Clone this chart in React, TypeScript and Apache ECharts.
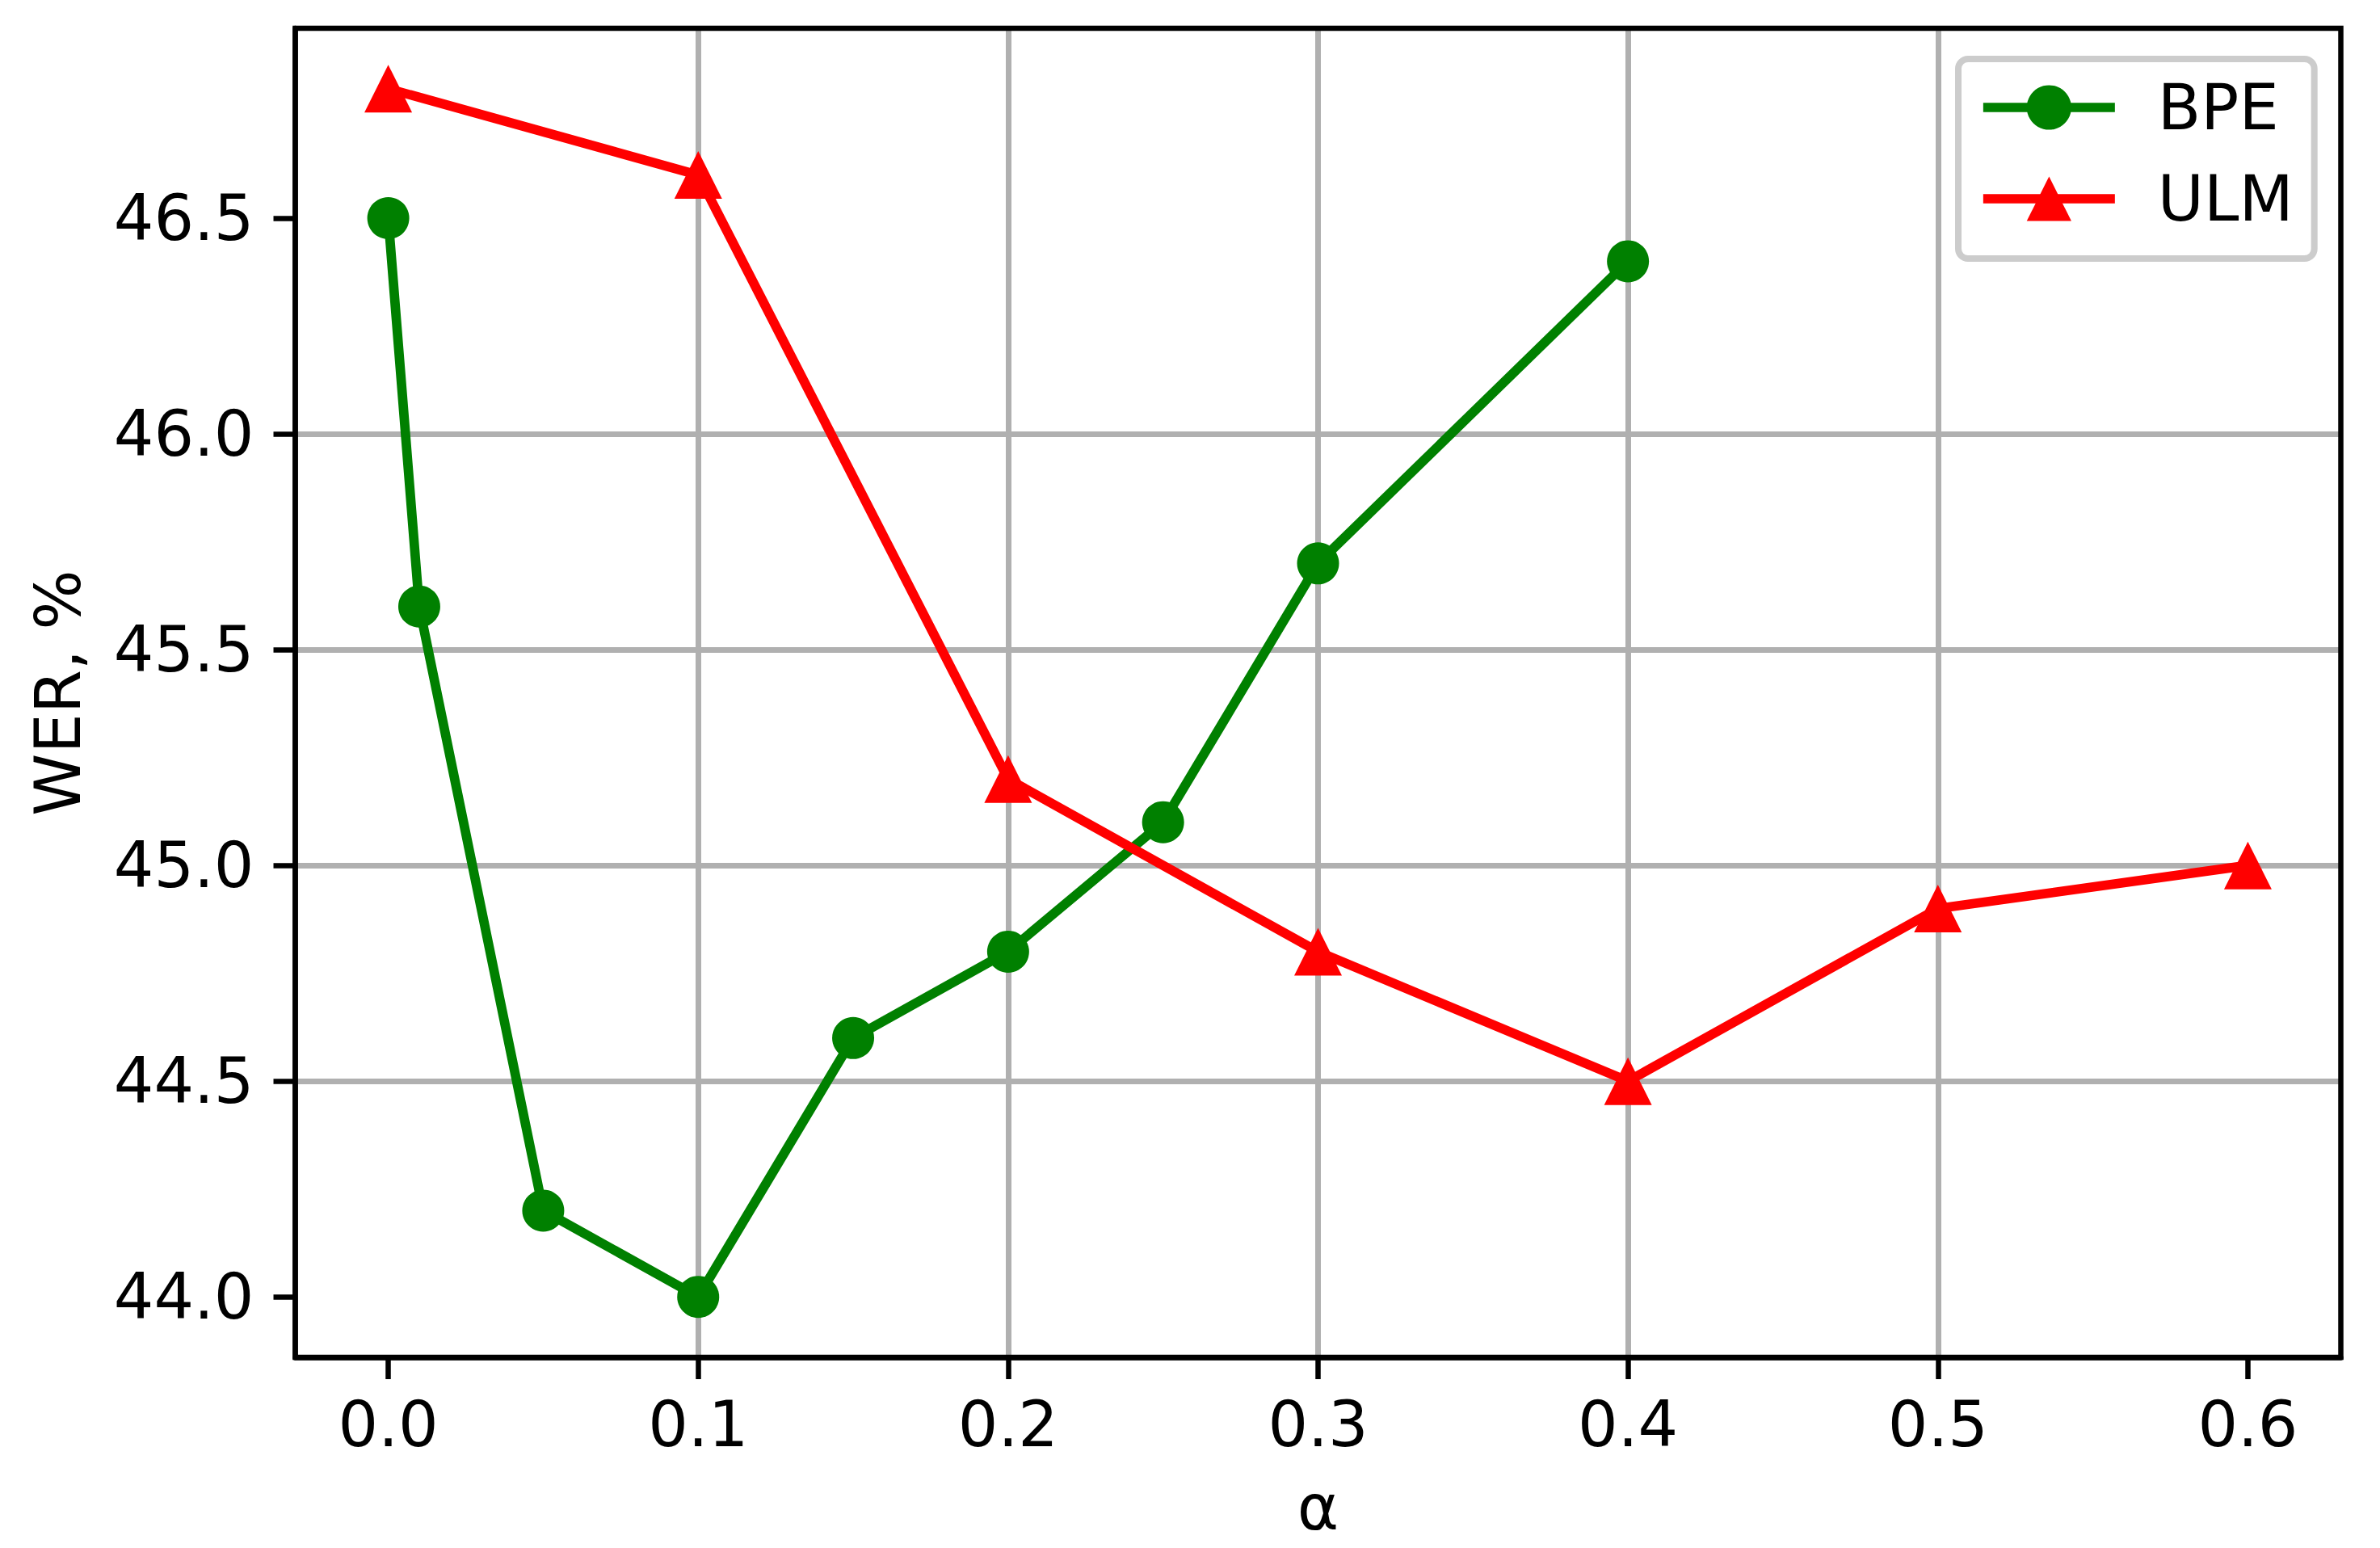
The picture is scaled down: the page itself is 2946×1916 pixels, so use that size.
import React, { useEffect, useRef } from "react";
import * as echarts from "echarts";

const bpeAlpha = [0, 0.01, 0.05, 0.1, 0.15, 0.2, 0.25, 0.3, 0.4];
const bpeWer = [46.5, 45.6, 44.2, 44.0, 44.6, 44.8, 45.1, 45.7, 46.4];
const ulmAlpha = [0, 0.1, 0.2, 0.3, 0.4, 0.5, 0.6];
const ulmWer = [46.8, 46.6, 45.2, 44.8, 44.5, 44.9, 45.0];
const xTicks = [0, 0.1, 0.2, 0.3, 0.4, 0.5, 0.6];
const yTicks = [44.0, 44.5, 45.0, 45.5, 46.0, 46.5];
const seriesNames = ["BPE", "ULM"];
const xName = "α";
const yName = "WER, %";

const FONT = "DejaVu Sans";

export default function App() {
  const ref = useRef<HTMLDivElement>(null);
  useEffect(() => {
    const chart = echarts.init(ref.current!, null, { renderer: "svg" });
    const axisText = { fontFamily: FONT, fontSize: 78, color: "#000" };
    const option: any = {
      animation: false,
      backgroundColor: "#fff",
      grid: {
        left: 365.5,
        right: 48.5,
        top: 35,
        bottom: 236,
        show: true,
        z: 10,
        borderColor: "#000",
        borderWidth: 6.5,
        backgroundColor: "transparent",
        containLabel: false,
        outerBoundsMode: "none",
      },
      legend: {
        left: 2424,
        top: 73,
        orient: "vertical",
        align: "left",
        padding: [21, 26, 35, 25],
        itemWidth: 163,
        itemHeight: 69,
        itemGap: 35,
        backgroundColor: "#fff",
        borderColor: "#cccccc",
        borderWidth: 8,
        borderRadius: 12,
        z: 20,
        data: seriesNames,
        lineStyle: { width: 11.7 },
        textStyle: {
          fontFamily: FONT,
          fontSize: 78,
          color: "#000",
          lineHeight: 69,
          padding: [0, 0, 0, 48],
        },
      },
      xAxis: {
        type: "value",
        min: -0.03,
        max: 0.63,
        name: xName,
        nameLocation: "middle",
        nameGap: 147,
        nameTextStyle: axisText,
        axisLine: { show: true, onZero: false, lineStyle: { color: "#000", width: 6.5 } },
        axisTick: {
          show: true,
          inside: false,
          length: 27,
          customValues: xTicks,
          lineStyle: { color: "#000", width: 6.5 },
        },
        axisLabel: {
          ...axisText,
          margin: 44,
          customValues: xTicks,
          formatter: (v: number) => v.toFixed(1),
        },
        splitLine: {
          show: true,
          showMinLine: false,
          showMaxLine: false,
          lineStyle: { color: "#b0b0b0", width: 7 },
        },
      },
      yAxis: {
        type: "value",
        min: 43.86,
        max: 46.94,
        name: yName,
        nameLocation: "middle",
        nameGap: 255,
        nameTextStyle: axisText,
        axisLine: { show: true, onZero: false, lineStyle: { color: "#000", width: 6.5 } },
        axisTick: {
          show: true,
          inside: false,
          length: 27,
          customValues: yTicks,
          lineStyle: { color: "#000", width: 6.5 },
        },
        axisLabel: {
          ...axisText,
          margin: 51,
          customValues: yTicks,
          formatter: (v: number) => v.toFixed(1),
        },
        splitLine: {
          show: true,
          showMinLine: false,
          showMaxLine: false,
          lineStyle: { color: "#b0b0b0", width: 7 },
        },
      },
      series: [
        {
          name: seriesNames[0],
          type: "line",
          data: bpeAlpha.map((a, i) => [a, bpeWer[i]]),
          symbol: "circle",
          symbolSize: 52,
          showAllSymbol: true,
          color: "#008000",
          lineStyle: { color: "#008000", width: 11.7 },
          itemStyle: { color: "#008000", borderWidth: 0 },
          z: 2,
        },
        {
          name: seriesNames[1],
          type: "line",
          data: ulmAlpha.map((a, i) => [a, ulmWer[i]]),
          symbol: "triangle",
          symbolSize: 59,
          showAllSymbol: true,
          color: "#ff0000",
          lineStyle: { color: "#ff0000", width: 11.7 },
          itemStyle: { color: "#ff0000", borderWidth: 0 },
          z: 3,
        },
      ],
    };
    chart.setOption(option);
    return () => chart.dispose();
  }, []);
  return (
    <div
      ref={ref}
      style={{ position: "fixed", left: 0, top: 0, width: 2946, height: 1916 }}
    />
  );
}
